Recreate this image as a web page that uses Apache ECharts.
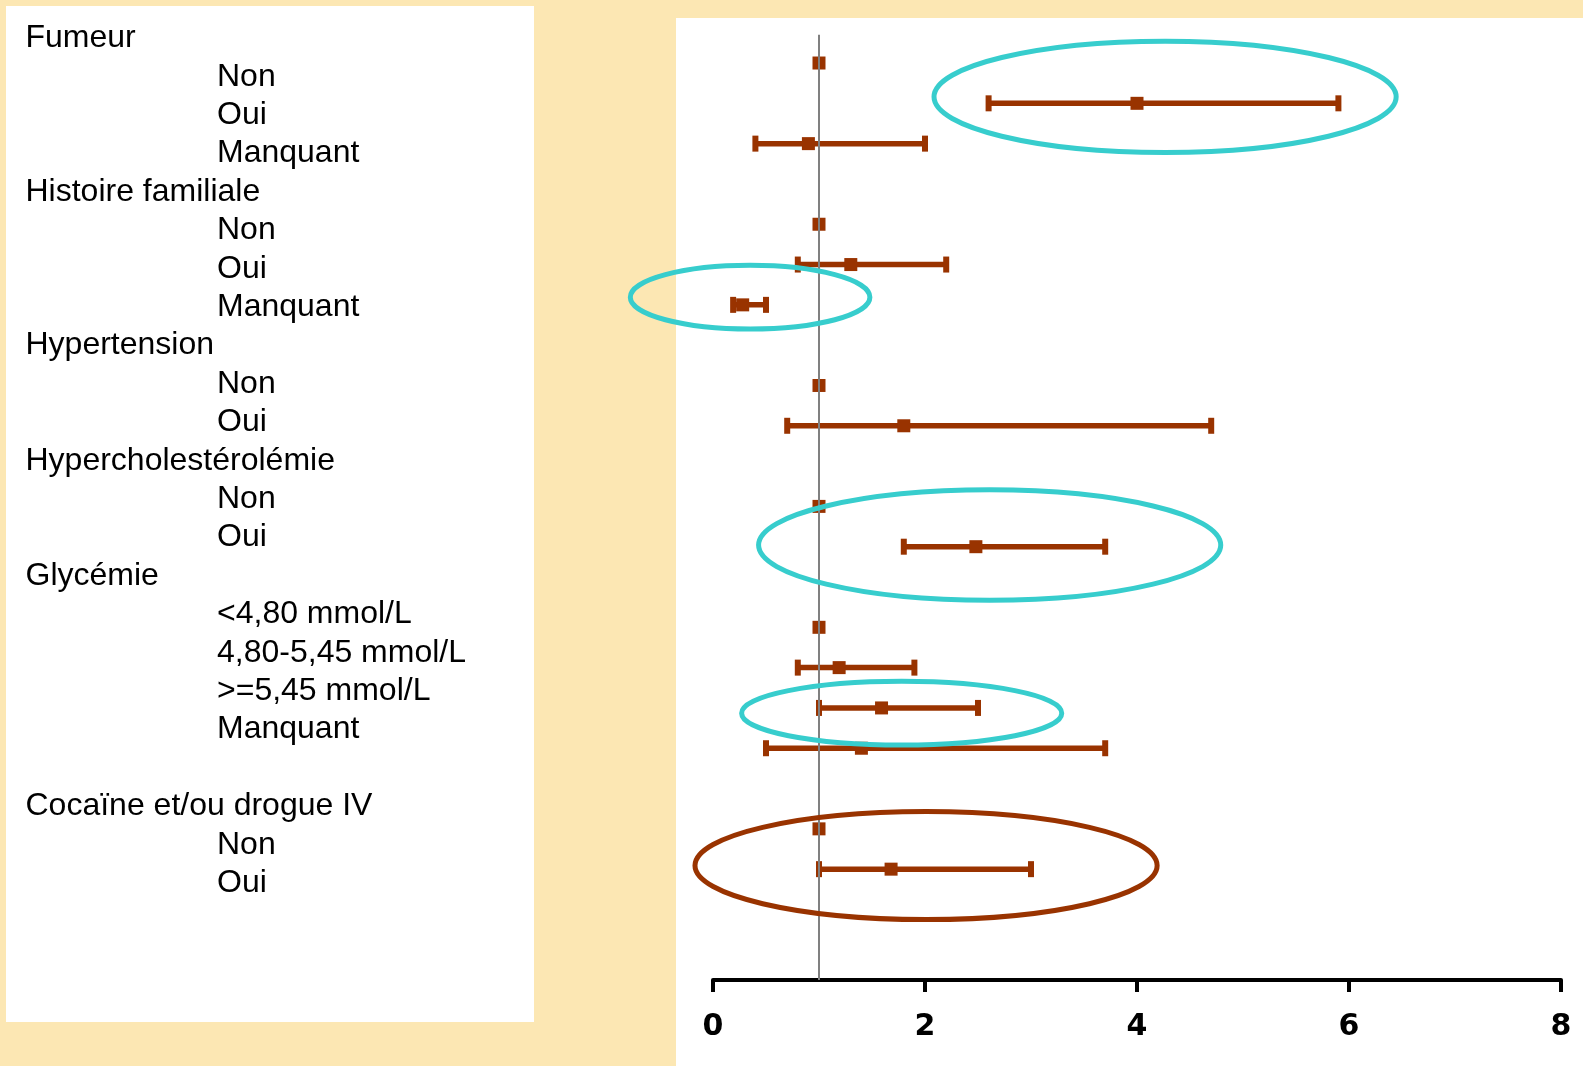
<!DOCTYPE html>
<html lang="fr">
<head>
    <meta charset="UTF-8">
    <title>Facteurs de risque</title>
    <script src="https://cdn.jsdelivr.net/npm/echarts@6/dist/echarts.min.js"></script>
    <style>html, body { margin: 0; padding: 0; background: #FCE7B3; }</style>
</head>
<body>
<div id="main" style="width: 1583px;height:1066px;"></div>

<script type="text/javascript">
    // texte de gauche (une ligne par libelle, 1 = titre de groupe)
    var labelTexts = ['Fumeur', 'Non', 'Oui', 'Manquant',
        'Histoire familiale', 'Non', 'Oui', 'Manquant',
        'Hypertension', 'Non', 'Oui',
        'Hypercholestérolémie', 'Non', 'Oui',
        'Glycémie', '<4,80 mmol/L', '4,80-5,45 mmol/L', '>=5,45 mmol/L', 'Manquant',
        '',
        'Cocaïne et/ou drogue IV', 'Non', 'Oui'];
    var labelIsHeader = [1, 0, 0, 0, 1, 0, 0, 0, 1, 0, 0, 1, 0, 0, 1, 0, 0, 0, 0, 0, 1, 0, 0];

    // odds ratios et IC (ligne = position verticale dans le graphe)
    var rows   = [0, 1, 2, 4, 5, 6, 8, 9, 11, 12, 14, 15, 16, 17, 19, 20];
    var orVals = [1, 4.0, 0.9, 1, 1.3, 0.28, 1, 1.8, 1, 2.48, 1, 1.19, 1.59, 1.4, 1, 1.68];
    var ciLow  = [null, 2.6, 0.4, null, 0.8, 0.19, null, 0.7, null, 1.8, null, 0.8, 1.0, 0.5, null, 1.0];
    var ciHigh = [null, 5.9, 2.0, null, 2.2, 0.5, null, 4.7, null, 3.7, null, 1.9, 2.5, 3.7, null, 3.0];

    var xTicks = [0, 2, 4, 6, 8];

    // ellipses de mise en evidence : [centre x, ligne, demi-largeur, demi-hauteur]
    var cyanRings  = [[4.265, 0.84, 2.18, 1.38], [0.35, 5.81, 1.13, 0.79], [2.61, 11.96, 2.18, 1.37], [1.78, 16.13, 1.51, 0.79]];
    var brownRings = [[2.01, 19.91, 2.18, 1.34]];

    var BROWN = '#993300';
    var CYAN = '#37CDCD';

    var myChart = echarts.init(document.getElementById('main'));

    var pointData = rows.map(function (r, i) { return [orVals[i], r]; });
    var ciData = [];
    rows.forEach(function (r, i) {
        if (ciLow[i] != null) ciData.push([ciLow[i], ciHigh[i], r]);
    });

    var graphics = [
        {type: 'rect', z: -10, shape: {x: 6, y: 6, width: 528, height: 1016}, style: {fill: '#fff'}},
        {type: 'rect', z: -10, shape: {x: 676, y: 18, width: 907, height: 1048}, style: {fill: '#fff'}}
    ];
    labelTexts.forEach(function (t, i) {
        if (!t) return;
        graphics.push({
            type: 'text',
            x: labelIsHeader[i] ? 25.5 : 217,
            y: 38.4 + i * 38.4,
            style: {
                text: t,
                font: '32px "Liberation Sans", Arial, sans-serif',
                fill: '#000',
                verticalAlign: 'middle'
            }
        });
    });

    function renderCI(params, api) {
        var a = api.coord([api.value(0), api.value(2)]);
        var b = api.coord([api.value(1), api.value(2)]);
        var h = 8;
        var st = {stroke: BROWN, lineWidth: 5.5};
        var cap = {stroke: BROWN, lineWidth: 6};
        return {
            type: 'group',
            children: [
                {type: 'line', shape: {x1: a[0], y1: a[1], x2: b[0], y2: b[1]}, style: st},
                {type: 'line', shape: {x1: a[0], y1: a[1] - h, x2: a[0], y2: a[1] + h}, style: cap},
                {type: 'line', shape: {x1: b[0], y1: b[1] - h, x2: b[0], y2: b[1] + h}, style: cap}
            ]
        };
    }

    function ringRenderer(color) {
        return function (params, api) {
            var c = api.coord([api.value(0), api.value(1)]);
            var sx = Math.abs(api.size([api.value(2), 0])[0]);
            var sy = Math.abs(api.size([0, api.value(3)])[1]);
            return {
                type: 'ellipse',
                shape: {cx: c[0], cy: c[1], rx: sx, ry: sy},
                style: {fill: 'none', stroke: color, lineWidth: 5}
            };
        };
    }

    var option = {
        backgroundColor: '#FCE7B3',
        animation: false,
        graphic: graphics,
        grid: {left: 713, right: 22, top: 34.8, bottom: 86},
        xAxis: {
            type: 'value',
            position: 'bottom',
            min: xTicks[0],
            max: xTicks[xTicks.length - 1],
            interval: 2,
            axisLine: {onZero: false, lineStyle: {color: '#000', width: 4}},
            axisTick: {show: true, length: 12, lineStyle: {color: '#000', width: 4}},
            axisLabel: {
                margin: 32,
                color: '#000',
                fontSize: 30,
                lineHeight: 30,
                fontWeight: 'bold',
                fontFamily: '"DejaVu Sans", Arial, sans-serif'
            },
            splitLine: {show: false}
        },
        yAxis: {
            type: 'value',
            inverse: true,
            min: -0.7,
            max: 22.75,
            show: false
        },
        series: [
            {
                // ligne de reference OR = 1
                type: 'line',
                data: [],
                z: 1,
                silent: true,
                markLine: {
                    symbol: 'none',
                    silent: true,
                    label: {show: false},
                    lineStyle: {color: '#808080', width: 2, type: 'solid'},
                    data: [{xAxis: 1}]
                }
            },
            {
                type: 'custom',
                z: 3,
                renderItem: renderCI,
                encode: {x: [0, 1], y: 2},
                data: ciData
            },
            {
                type: 'scatter',
                z: 4,
                symbol: 'rect',
                symbolSize: 13,
                itemStyle: {color: BROWN, opacity: 1},
                data: pointData
            },
            {
                type: 'custom',
                z: 5,
                renderItem: ringRenderer(CYAN),
                encode: {x: 0, y: 1},
                data: cyanRings
            },
            {
                type: 'custom',
                z: 5,
                renderItem: ringRenderer(BROWN),
                encode: {x: 0, y: 1},
                data: brownRings
            }
        ]
    };
    myChart.setOption(option);
</script>
</body>
</html>
